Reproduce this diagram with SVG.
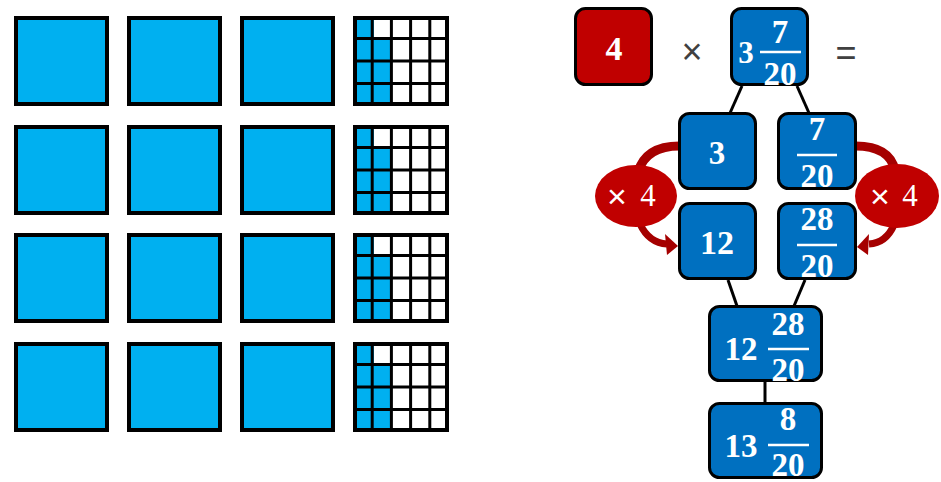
<svg xmlns="http://www.w3.org/2000/svg" xmlns:xlink="http://www.w3.org/1999/xlink" width="941" height="482" viewBox="0 0 941 482">
<style>
.sq{fill:#00B0F0;stroke:#000;stroke-width:4}
.gl{stroke:#000;stroke-width:3}
.node{fill:#0070C0;stroke:#000;stroke-width:3}
.red{fill:#C00000;stroke:#000;stroke-width:3}
.num{font-family:"Liberation Serif","DejaVu Serif",serif;font-weight:bold;fill:#fff;text-anchor:middle}
.op{font-family:"Liberation Serif","DejaVu Serif",serif;fill:#fff;text-anchor:middle;font-size:31px}
.x{font-family:"Liberation Sans","DejaVu Sans",sans-serif;fill:#fff;text-anchor:middle;font-size:34px}
.sym{font-family:"Liberation Sans","DejaVu Sans",sans-serif;fill:#404040;text-anchor:middle;font-size:36px}
.bar{stroke:#fff;stroke-width:2.5}
.conn{stroke:#000;stroke-width:3;fill:none}
.arc{stroke:#A50000;fill:none;stroke-linecap:butt}
</style>
<defs>
<g id="grid">
<rect x="355" y="2" width="92" height="86" fill="#fff" stroke="none"/>
<rect x="355" y="2" width="19" height="22.5" fill="#00B0F0"/>
<rect x="355" y="22.5" width="19" height="65.5" fill="#00B0F0"/>
<rect x="372" y="22.5" width="19.4" height="65.5" fill="#00B0F0"/>
<line class="gl" x1="372.2" y1="0" x2="372.2" y2="90"/>
<line class="gl" x1="391.4" y1="0" x2="391.4" y2="90"/>
<line class="gl" x1="410.6" y1="0" x2="410.6" y2="90"/>
<line class="gl" x1="429.8" y1="0" x2="429.8" y2="90"/>
<line class="gl" x1="353" y1="22.5" x2="449" y2="22.5"/>
<line class="gl" x1="353" y1="45" x2="449" y2="45"/>
<line class="gl" x1="353" y1="67.5" x2="449" y2="67.5"/>
<rect x="355" y="2" width="92" height="86" fill="none" stroke="#000" stroke-width="4"/>
</g>
<g id="row">
<rect class="sq" x="16" y="2" width="91" height="86"/>
<rect class="sq" x="129" y="2" width="91" height="86"/>
<rect class="sq" x="242" y="2" width="91" height="86"/>
<use xlink:href="#grid"/>
</g>
</defs>

<g id="squares">
<use xlink:href="#row" y="16"/>
<use xlink:href="#row" y="125"/>
<use xlink:href="#row" y="233"/>
<use xlink:href="#row" y="342"/>
</g>

<g id="connectors">
<line class="conn" x1="742" y1="86" x2="730" y2="113"/>
<line class="conn" x1="797" y1="86" x2="809" y2="113"/>
<line class="conn" x1="728" y1="280" x2="737" y2="306"/>
<line class="conn" x1="805" y1="280" x2="794" y2="306"/>
<line class="conn" x1="765" y1="382" x2="765" y2="403"/>
<path class="arc" stroke-width="9" d="M682,146 Q646,145 638,172"/>
<path class="arc" stroke-width="7" d="M640,224 Q649,243 667,244"/>
<polygon points="678,246 665,234 667,255" fill="#A50000"/>
<path class="arc" stroke-width="9" d="M853,146 Q889,145 895,170"/>
<path class="arc" stroke-width="7" d="M894,225 Q886,243 869,244"/>
<polygon points="857,247 869,234 868,255" fill="#A50000"/>
</g>

<g id="mult-left">
<ellipse cx="636" cy="196" rx="41" ry="31" fill="#C00000"/>
<text class="x" x="617" y="208">×</text>
<text class="op" x="648" y="206">4</text>
</g>
<g id="mult-right">
<ellipse cx="897" cy="196" rx="42" ry="32" fill="#C00000"/>
<text class="x" x="880" y="208">×</text>
<text class="op" x="910" y="206">4</text>
</g>

<g id="n-four">
<rect class="red" x="575.5" y="8.5" width="76" height="76" rx="10"/>
<text class="num" x="614" y="60" font-size="34">4</text>
</g>
<text class="sym" x="692" y="64">×</text>
<g id="n-top">
<rect class="node" x="731.5" y="8.5" width="76" height="76" rx="10"/>
<text class="num" x="746" y="63" font-size="31">3</text>
<text class="num" x="780" y="43" font-size="33">7</text>
<line class="bar" x1="760" y1="52" x2="801" y2="52"/>
<text class="num" x="780" y="85" font-size="33">20</text>
</g>
<text class="sym" x="846" y="65">=</text>

<g id="n-three">
<rect class="node" x="679.5" y="113.5" width="76" height="75" rx="10"/>
<text class="num" x="717" y="164" font-size="33">3</text>
</g>
<g id="n-frac">
<rect class="node" x="778.5" y="113.5" width="77" height="75" rx="10"/>
<text class="num" x="817" y="140" font-size="33">7</text>
<line class="bar" x1="797" y1="155" x2="837" y2="155"/>
<text class="num" x="817" y="187" font-size="33">20</text>
</g>
<g id="n-twelve">
<rect class="node" x="679.5" y="203.5" width="76" height="75" rx="10"/>
<text class="num" x="717" y="254" font-size="34">12</text>
</g>
<g id="n-frac28">
<rect class="node" x="778.5" y="203.5" width="77" height="75" rx="10"/>
<text class="num" x="817" y="230" font-size="33">28</text>
<line class="bar" x1="797" y1="245" x2="837" y2="245"/>
<text class="num" x="817" y="277" font-size="33">20</text>
</g>
<g id="n-sum">
<rect class="node" x="709.5" y="306.5" width="112" height="74" rx="10"/>
<text class="num" x="741" y="360" font-size="33">12</text>
<text class="num" x="788" y="335" font-size="33">28</text>
<line class="bar" x1="768" y1="349" x2="809" y2="349"/>
<text class="num" x="788" y="381" font-size="33">20</text>
</g>
<g id="n-result">
<rect class="node" x="709.5" y="403.5" width="112" height="74" rx="10"/>
<text class="num" x="741" y="457" font-size="33">13</text>
<text class="num" x="788" y="430" font-size="33">8</text>
<line class="bar" x1="768" y1="445" x2="809" y2="445"/>
<text class="num" x="788" y="476" font-size="33">20</text>
</g>
</svg>
